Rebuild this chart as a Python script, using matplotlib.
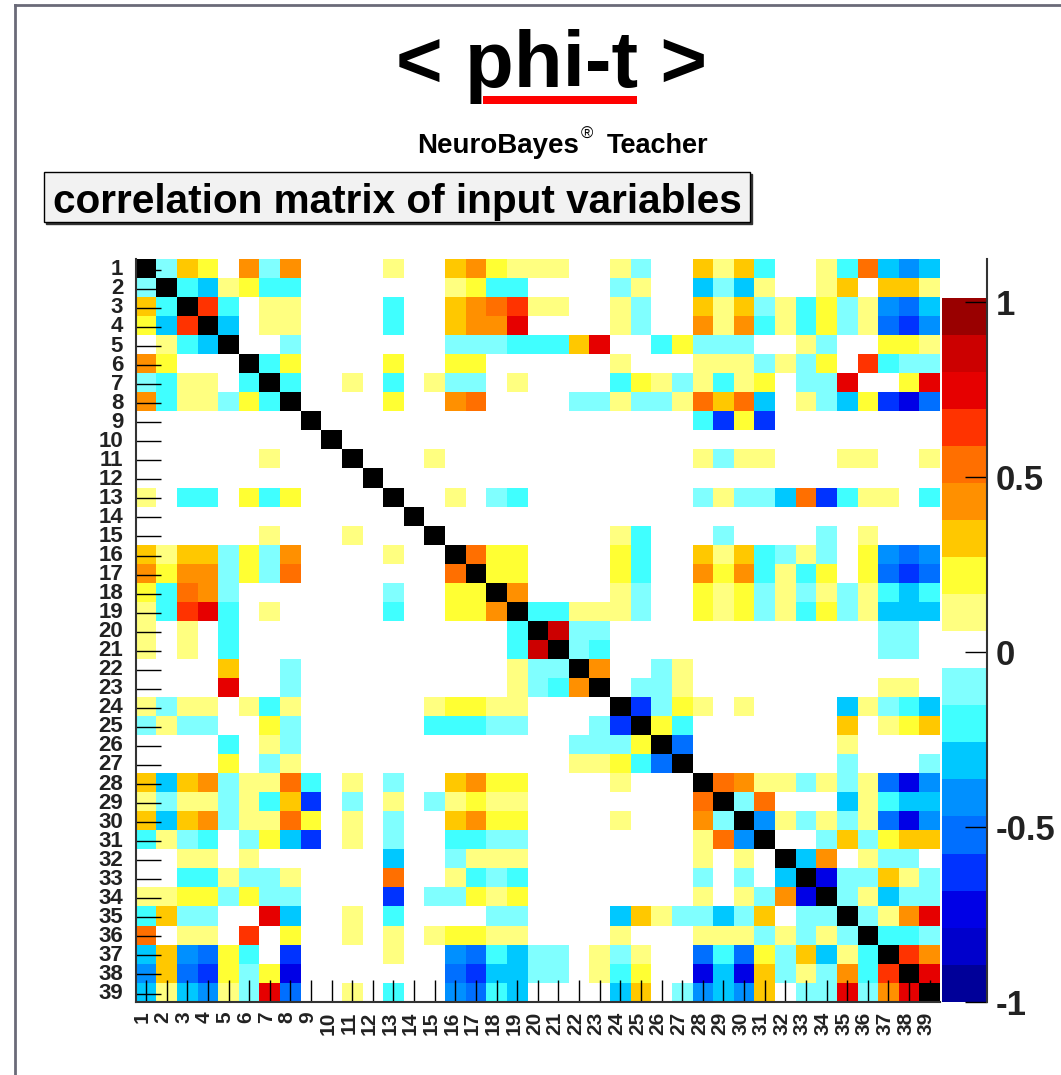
#!/usr/bin/env python3

import numpy as np
import matplotlib
matplotlib.use('Agg')
import matplotlib.pyplot as plt
from matplotlib.colors import ListedColormap, BoundaryNorm
from matplotlib.lines import Line2D
from matplotlib.patches import Rectangle
from matplotlib.transforms import ScaledTranslation

# upper triangle of the matrix, {column: colour level}, level 0 is the white band
row_01 = {2:-1,3:3,4:2,6:4,7:-1,8:4,13:1,16:3,17:4,18:2,19:1,20:1,21:1,24:1,25:-1,28:3,29:1,30:3,31:-2,34:1,35:-2,36:5,37:-3,38:-4,39:-3}
row_02 = {3:-2,4:-3,5:1,6:2,7:-2,8:-2,16:1,17:2,18:-2,19:-2,24:-1,25:1,28:-3,29:-1,30:-3,31:1,34:1,35:3,37:3,38:3,39:1}
row_03 = {4:6,5:-2,7:1,8:1,13:-2,16:3,17:4,18:5,19:6,20:1,21:1,24:1,25:-1,28:3,29:1,30:3,31:-1,32:1,33:-2,34:2,35:-1,36:1,37:-4,38:-5,39:-3}
row_04 = {5:-3,7:1,8:1,13:-2,16:3,17:4,18:4,19:7,24:1,25:-1,28:4,29:1,30:4,31:-2,32:1,33:-2,34:2,35:-1,36:1,37:-5,38:-6,39:-4}
row_05 = {8:-1,16:-1,17:-1,18:-1,19:-2,20:-2,21:-2,22:3,23:7,26:-2,27:2,28:-1,29:-1,30:-1,33:1,34:-1,37:2,38:2,39:1}
row_06 = {7:-2,8:2,13:2,16:2,17:2,24:1,28:1,29:1,30:1,31:-1,32:1,33:-1,34:2,36:6,37:-2,38:-1,39:-1}
row_07 = {8:-2,11:1,13:-2,15:1,16:-1,17:-1,19:1,24:-2,25:2,26:1,27:-1,28:1,29:-2,30:1,31:2,33:-1,34:-1,35:7,38:2,39:7}
row_08 = {13:2,16:4,17:5,22:-1,23:-1,24:1,25:-1,26:-1,27:1,28:5,29:3,30:5,31:-3,33:1,34:-1,35:-3,36:2,37:-6,38:-7,39:-5}
row_09 = {28:-2,29:-6,30:2,31:-6}
row_10 = {}
row_11 = {15:1,28:1,29:-1,30:1,31:1,35:1,36:1,39:1}
row_12 = {}
row_13 = {16:1,18:-1,19:-2,28:-1,29:1,30:-1,31:-1,32:-3,33:5,34:-6,35:-2,36:1,37:1,39:-2}
row_14 = {}
row_15 = {24:1,25:-2,29:-1,34:-1,36:1}
row_16 = {17:5,18:2,19:2,24:2,25:-2,28:3,29:1,30:3,31:-2,32:-1,33:1,34:-1,36:2,37:-4,38:-5,39:-4}
row_17 = {18:2,19:2,24:2,25:-2,28:4,29:2,30:4,31:-2,32:1,33:-2,34:2,36:2,37:-5,38:-6,39:-5}
row_18 = {19:4,24:1,25:-1,28:2,29:1,30:2,31:-1,32:1,33:-1,34:1,35:-1,36:1,37:-2,38:-3,39:-2}
row_19 = {20:-2,21:-2,22:1,23:1,24:1,25:-1,28:2,29:1,30:2,31:-1,32:1,33:-2,34:2,35:-1,36:1,37:-3,38:-3,39:-3}
row_20 = {21:8,22:-1,23:-1,37:-1,38:-1}
row_21 = {22:-1,23:-2,37:-1,38:-1}
row_22 = {23:4,26:-1,27:1}
row_23 = {25:-1,26:-1,27:1,37:1,38:1}
row_24 = {25:-6,26:-1,27:2,28:1,30:1,35:-3,36:1,37:-1,38:-2,39:-3}
row_25 = {26:2,27:-2,35:3,37:1,38:2,39:3}
row_26 = {27:-5,35:1}
row_27 = {35:-1,39:-1}
row_28 = {29:5,30:4,31:1,32:1,33:-1,34:1,35:-1,36:1,37:-5,38:-7,39:-4}
row_29 = {30:-1,31:5,35:-3,36:1,37:-2,38:-3,39:-3}
row_30 = {31:-4,32:1,33:-1,34:1,35:-1,36:1,37:-5,38:-7,39:-4}
row_31 = {34:-1,35:3,36:-1,37:2,38:3,39:3}
row_32 = {33:-3,34:4,36:1,37:-1,38:-1}
row_33 = {34:-7,35:-1,36:-1,37:3,38:1,39:-1}
row_34 = {35:-1,36:1,37:-3,38:-1,39:-1}
row_35 = {36:-1,37:1,38:4,39:7}
row_36 = {37:-2,38:-2,39:-1}
row_37 = {38:6,39:4}
row_38 = {39:7}
row_39 = {}

upper_rows = [row_01,row_02,row_03,row_04,row_05,row_06,row_07,row_08,row_09,row_10,
              row_11,row_12,row_13,row_14,row_15,row_16,row_17,row_18,row_19,row_20,
              row_21,row_22,row_23,row_24,row_25,row_26,row_27,row_28,row_29,row_30,
              row_31,row_32,row_33,row_34,row_35,row_36,row_37,row_38,row_39]

level_colors = ['#000099','#0000CC','#0000E6','#0033FF','#006FFF','#0090FF','#00C8FF','#40FFFF','#80FFFF',
                '#FFFFFF',
                '#FFFF80','#FFFF33','#FFC800','#FF9000','#FF6F00','#FF3300','#E60000','#CC0000','#990000']
cbar_ticks = [-1,-0.5,0,0.5,1]
cbar_labels = ['-1','-0.5','0','0.5','1']
var_labels = [str(i) for i in range(1,40)]

W = 1061
H = 1075
font = 'Liberation Sans'
plt.rcParams['font.family'] = font

def px_rect(x0, y0, x1, y1):
    # pixel box of the reference -> figure fractions for add_axes
    return [x0/W, 1-y1/H, (x1-x0)/W, (y1-y0)/H]

n = len(upper_rows)
edges = np.linspace(-1, 1.012, 20)
step = edges[1]-edges[0]
zero = (edges[9]+edges[10])/2

corr = np.full((n,n), zero)
for i in range(n):
    for col in upper_rows[i]:
        corr[i][col-1] = upper_rows[i][col]*step+zero
        corr[col-1][i] = corr[i][col-1]
corr = np.ma.masked_where(np.eye(n,dtype=bool), corr)

cmap = ListedColormap(level_colors)
cmap.set_bad('black')
norm = BoundaryNorm(edges, cmap.N)

fig = plt.figure(figsize=(W/100,H/100), dpi=100, facecolor='white')

# outer frame of the page
frame_col = '#6a6a78'
fig.add_artist(Line2D([15/W,15/W],[0,1-5/H],color=frame_col,linewidth=2))
fig.add_artist(Line2D([15/W,1],[1-5/H,1-5/H],color=frame_col,linewidth=2))

# titles
fig.text(552/W,1-87/H,'< phi-t >',fontsize=57.5,fontweight='bold',ha='center',va='baseline')
fig.add_artist(Rectangle((483/W,1-104/H),154/W,8/H,color='#ff0000',linewidth=0))
fig.text(417/W,1-153/H,'NeuroBayes',fontsize=20,fontweight='bold',va='baseline')
fig.text(581/W,1-139/H,'®',fontsize=12,va='baseline')
fig.text(607/W,1-153/H,'Teacher',fontsize=19.5,fontweight='bold',va='baseline')

# boxed label with its drop shadow
fig.add_artist(Rectangle((46/W,1-224/H),706/W,50/H,facecolor='#333333',edgecolor='#333333',linewidth=1))
fig.add_artist(Rectangle((44/W,1-222/H),706/W,50/H,facecolor='#f2f2f2',edgecolor='black',linewidth=1))
fig.text(397/W,1-213/H,'correlation matrix of input variables',fontsize=29.2,fontweight='bold',ha='center',va='baseline')

# matrix
ax = fig.add_axes(px_rect(135.7,259,940,1001.7))
ax.pcolormesh(np.arange(n+1),np.arange(n+1),corr,cmap=cmap,norm=norm)
ax.set_xlim(0,n)
ax.set_ylim(n,0)
ax.spines['top'].set_visible(False)
ax.spines['right'].set_visible(False)
ax.spines['left'].set_linewidth(1.5)
ax.spines['bottom'].set_linewidth(1.5)
ax.spines['left'].set_color('#333333')
ax.spines['bottom'].set_color('#333333')
ticks = np.arange(n)+0.5
ax.set_xticks(ticks)
ax.set_xticklabels(var_labels,rotation=90,fontsize=15,fontweight='bold',color='#222222')
ax.set_yticks(ticks+0.07)
ax.set_yticklabels(var_labels,fontsize=16,fontweight='bold',color='#222222')
ax.tick_params(axis='x',direction='in',length=16,width=1,pad=7)
ax.tick_params(axis='y',direction='in',length=18,width=1,pad=9)
offset = ScaledTranslation(-3.5/100,0,fig.dpi_scale_trans)
for label in ax.xaxis.get_majorticklabels():
    label.set_transform(label.get_transform()+offset)
offset = ScaledTranslation(0,2.5/100,fig.dpi_scale_trans)
for label in ax.yaxis.get_majorticklabels():
    label.set_transform(label.get_transform()+offset)

# colour scale
cax = fig.add_axes(px_rect(942,259,987,1001.7))
levels = np.array([(edges[:-1]+edges[1:])/2]).T
cax.pcolormesh([0,1],edges,levels,cmap=cmap,norm=norm)
cax.set_xlim(0,1)
cax.set_ylim(-1,(1001.7-259)/349.8-1)
for s in ['top','left','bottom']:
    cax.spines[s].set_visible(False)
cax.spines['right'].set_linewidth(1.5)
cax.spines['right'].set_color('#333333')
cax.set_xticks([])
cax.yaxis.tick_right()
cax.set_yticks(cbar_ticks)
cax.set_yticklabels(cbar_labels,fontsize=25,fontweight='bold',color='#222222')
cax.tick_params(axis='y',direction='in',length=16,width=1,pad=6)

fig.savefig('out.png',dpi=100)
